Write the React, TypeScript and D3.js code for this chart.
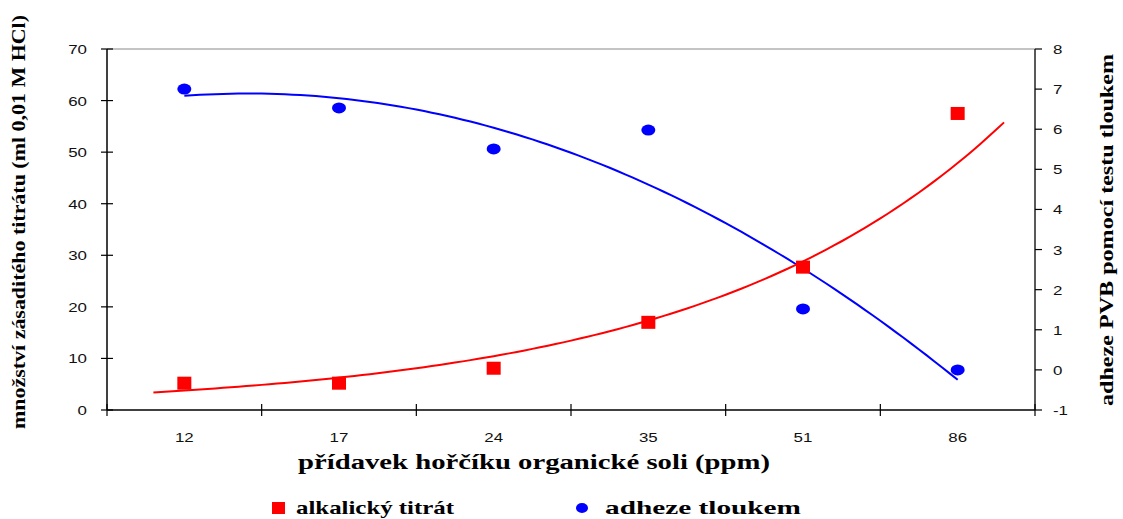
import React from "react";
import * as d3 from "d3";

// Magnesium salt dose (ppm) – categorical x axis
const doses = ["12", "17", "24", "35", "51", "86"];
// Alkaline titrate (ml 0.01 M HCl), left axis
const titrate = [5.2, 5.2, 8.1, 17.0, 27.7, 57.5];
// Pummel adhesion of PVB, right axis
const adhesion = [7.0, 6.53, 5.51, 5.98, 1.52, 0.0];

const leftTicks = [0, 10, 20, 30, 40, 50, 60, 70];
const rightTicks = [-1, 0, 1, 2, 3, 4, 5, 6, 7, 8];

const W = 1123;
const H = 519;
const M = { left: 107, right: 1035, top: 49, bottom: 410 };

// Least-squares exponential trend y = a·e^(b·x)
function expFit(xs: number[], ys: number[]) {
  const ly = ys.map(Math.log);
  const mx = d3.mean(xs)!;
  const my = d3.mean(ly)!;
  const sxy = d3.sum(xs, (x, i) => (x - mx) * (ly[i] - my));
  const sxx = d3.sum(xs, (x) => (x - mx) ** 2);
  const b = sxy / sxx;
  const a = Math.exp(my - b * mx);
  return (x: number) => a * Math.exp(b * x);
}

// Least-squares quadratic trend
function quadFit(xs: number[], ys: number[]) {
  const mx = d3.mean(xs)!;
  const t = xs.map((x) => x - mx);
  const n = xs.length;
  const s2 = d3.sum(t, (v) => v * v);
  const s3 = d3.sum(t, (v) => v ** 3);
  const s4 = d3.sum(t, (v) => v ** 4);
  const sy = d3.sum(ys);
  const sty = d3.sum(t, (v, i) => v * ys[i]);
  const st2y = d3.sum(t, (v, i) => v * v * ys[i]);
  // Solve 3x3 normal equations [n 0 s2; 0 s2 s3; s2 s3 s4]
  const A = [
    [n, 0, s2, sy],
    [0, s2, s3, sty],
    [s2, s3, s4, st2y],
  ];
  for (let i = 0; i < 3; i++) {
    for (let j = i + 1; j < 3; j++) {
      const f = A[j][i] / A[i][i];
      for (let k = i; k < 4; k++) A[j][k] -= f * A[i][k];
    }
  }
  const c = A[2][3] / A[2][2];
  const b = (A[1][3] - A[1][2] * c) / A[1][1];
  const a = (A[0][3] - A[0][2] * c - A[0][1] * b) / A[0][0];
  return (x: number) => a + b * (x - mx) + c * (x - mx) ** 2;
}

const tickFont = "'Liberation Sans', Arial, sans-serif";
const titleFont = "'Liberation Serif', 'Times New Roman', serif";

// Wide tick label (horizontally stretched sans)
function TickLabel(props: { x: number; y: number; anchor: string; children: React.ReactNode }) {
  return (
    <text
      transform={`translate(${props.x}, ${props.y}) scale(1.3, 1)`}
      textAnchor={props.anchor}
      fontFamily={tickFont}
      fontSize={13}
      fill="#111"
    >
      {props.children}
    </text>
  );
}

export default function App() {
  const xBand = d3.scaleBand<string>().domain(doses).range([M.left, M.right]);
  const cx = (d: string) => xBand(d)! + xBand.bandwidth() / 2;
  const xi = d3
    .scaleLinear()
    .domain([1, doses.length])
    .range([cx(doses[0]), cx(doses[doses.length - 1])]);
  const yL = d3.scaleLinear().domain([0, 70]).range([M.bottom, M.top]);
  const yR = d3.scaleLinear().domain([-1, 8]).range([M.bottom, M.top]);

  const idx = doses.map((_, i) => i + 1);
  const redFit = expFit(idx, titrate);
  const blueFit = quadFit(idx, adhesion);

  const redPts = d3.range(0.8, 6.3001, 0.05);
  const bluePts = d3.range(1, 6.0001, 0.05);
  const redLine = d3
    .line<number>()
    .x((v) => xi(v))
    .y((v) => yL(redFit(v)));
  const blueLine = d3
    .line<number>()
    .x((v) => xi(v))
    .y((v) => yR(blueFit(v)));

  const bandEdges = d3.range(doses.length + 1).map((i) => M.left + i * xBand.bandwidth());

  return (
    <svg width={W} height={H} style={{ position: "absolute", left: 0, top: 0, background: "#fff" }}>
      {/* frame */}
      <line x1={M.left} x2={M.right} y1={M.top} y2={M.top} stroke="#888" strokeWidth={1} />
      <line x1={M.left} x2={M.right} y1={M.bottom} y2={M.bottom} stroke="#000" strokeWidth={1.5} />
      <line x1={M.left} x2={M.left} y1={M.top} y2={M.bottom} stroke="#000" strokeWidth={1.5} />
      <line x1={M.right} x2={M.right} y1={M.top} y2={M.bottom} stroke="#222" strokeWidth={1.5} />

      {/* left axis */}
      {leftTicks.map((t) => (
        <g key={"l" + t}>
          <line x1={M.left - 6} x2={M.left + 6} y1={yL(t)} y2={yL(t)} stroke="#000" strokeWidth={1.2} />
          <TickLabel x={87} y={yL(t) + 5} anchor="end">
            {t}
          </TickLabel>
        </g>
      ))}

      {/* right axis */}
      {rightTicks.map((t) => (
        <g key={"r" + t}>
          <line x1={M.right} x2={M.right + 7} y1={yR(t)} y2={yR(t)} stroke="#000" strokeWidth={1.2} />
          <TickLabel x={1053} y={yR(t) + 5} anchor="start">
            {t}
          </TickLabel>
        </g>
      ))}

      {/* x axis */}
      {bandEdges.map((x, i) => (
        <line key={"xt" + i} x1={x} x2={x} y1={M.bottom - 6} y2={M.bottom + 6} stroke="#000" strokeWidth={1.2} />
      ))}
      {doses.map((d) => (
        <TickLabel key={"xl" + d} x={cx(d)} y={442} anchor="middle">
          {d}
        </TickLabel>
      ))}

      {/* trend lines */}
      <path d={blueLine(bluePts)!} fill="none" stroke="#0000ff" strokeWidth={2} />
      <path d={redLine(redPts)!} fill="none" stroke="#ff0000" strokeWidth={2} />

      {/* markers */}
      {doses.map((d, i) => (
        <rect key={"sq" + d} x={cx(d) - 7} y={yL(titrate[i]) - 6.5} width={14} height={13} fill="#ff0000" />
      ))}
      {doses.map((d, i) => (
        <ellipse key={"ci" + d} cx={cx(d)} cy={yR(adhesion[i])} rx={7} ry={5.5} fill="#0000ff" />
      ))}

      {/* axis titles */}
      <text
        transform={`translate(25, 222) rotate(-90)`}
        textAnchor="middle"
        fontFamily={titleFont}
        fontWeight="bold"
        fontSize={19}
        textLength={414}
        lengthAdjust="spacingAndGlyphs"
        fill="#000"
      >
        množství zásaditého titrátu (ml 0,01 M HCl)
      </text>
      <text
        transform={`translate(1113, 230) rotate(-90)`}
        textAnchor="middle"
        fontFamily={titleFont}
        fontWeight="bold"
        fontSize={19}
        textLength={352}
        lengthAdjust="spacingAndGlyphs"
        fill="#000"
      >
        adheze PVB pomocí testu tloukem
      </text>
      <text
        x={534}
        y={469}
        textAnchor="middle"
        fontFamily={titleFont}
        fontWeight="bold"
        fontSize={20}
        textLength={472}
        lengthAdjust="spacingAndGlyphs"
        fill="#000"
      >
        přídavek hořčíku organické soli (ppm)
      </text>

      {/* legend */}
      <rect x={272} y={502} width={13} height={12} fill="#ff0000" />
      <text
        x={296}
        y={514}
        fontFamily={titleFont}
        fontWeight="bold"
        fontSize={19}
        textLength={158}
        lengthAdjust="spacingAndGlyphs"
        fill="#000"
      >
        alkalický titrát
      </text>
      <ellipse cx={582} cy={508} rx={6} ry={5} fill="#0000ff" />
      <text
        x={605}
        y={514}
        fontFamily={titleFont}
        fontWeight="bold"
        fontSize={19}
        textLength={196}
        lengthAdjust="spacingAndGlyphs"
        fill="#000"
      >
        adheze tloukem
      </text>
    </svg>
  );
}
